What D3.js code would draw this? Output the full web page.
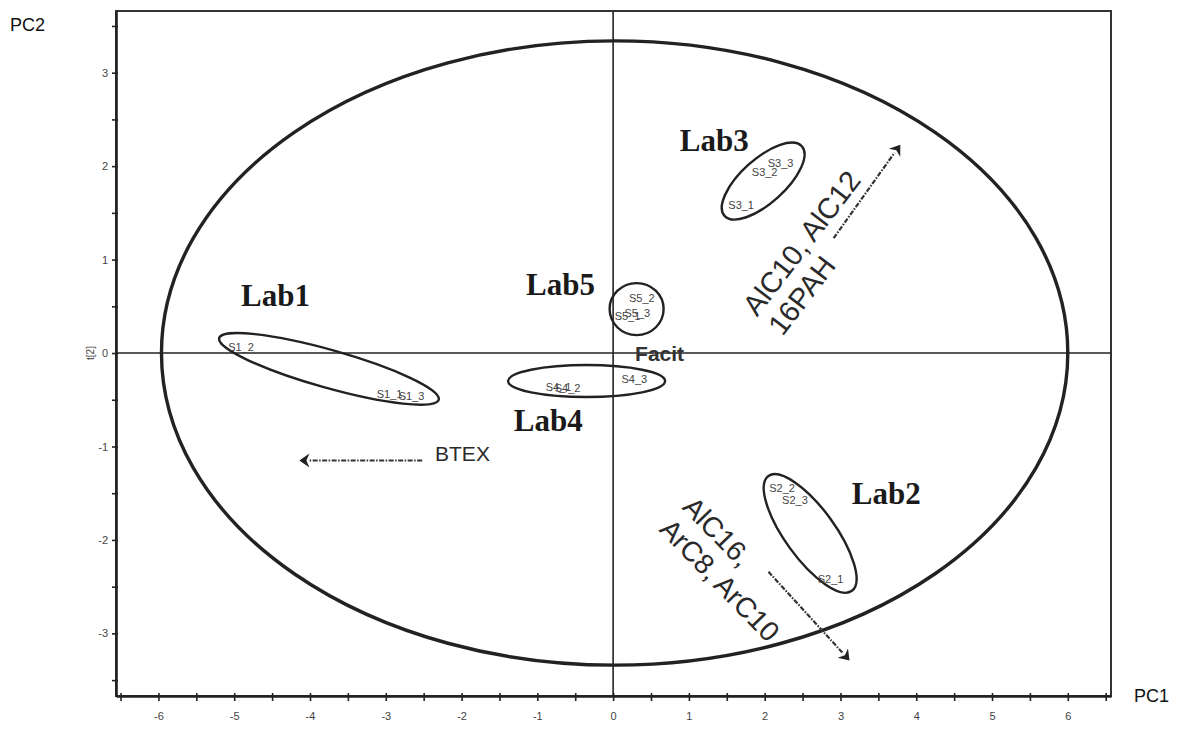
<!DOCTYPE html>
<html>
<head>
<meta charset="utf-8">
<script src="https://cdn.jsdelivr.net/npm/d3@7"></script>
<style>
  html, body { margin: 0; padding: 0; background: #fff; }
  svg { display: block; }
</style>
</head>
<body>
<svg id="chart" width="1191" height="735"></svg>
<script>
// PCA score plot (t[1] vs t[2]) of laboratory replicates

// Score values for each replicate sample
const sampleNames = ["S1_1","S1_2","S1_3","S2_1","S2_2","S2_3","S3_1","S3_2","S3_3",
                     "S4_1","S4_2","S4_3","S5_1","S5_2","S5_3"];
const pc1Scores = [-3.12,-5.08,-2.83, 2.70, 2.06, 2.23, 1.52, 1.83, 2.04,
                   -0.89,-0.77, 0.11, 0.02, 0.21, 0.15];
const pc2Scores = [-0.44, 0.06,-0.46,-2.42,-1.45,-1.57, 1.58, 1.94, 2.03,
                   -0.37,-0.38,-0.28, 0.40, 0.59, 0.43];

// Reference sample
const refName = "Facit";
const refScore = [0.29, 0.0];

// Laboratory groups: label and centre of the group ring (score units)
const labNames  = ["Lab1","Lab2","Lab3","Lab4","Lab5"];
const labCentre = [[-3.75,-0.17],[2.60,-1.93],[1.98,1.84],[-0.35,-0.30],[0.31,0.47]];
const labTextAt = [[-4.91,0.50],[3.15,-1.62],[0.88,2.16],[-1.31,-0.83],[-1.15,0.62]];

// Hotelling T2 (95%) ellipse semi-axes
const t2Radii = [5.98, 3.34];

// Loading direction arrows: [tail, tip] in score units
const arrowNames = ["BTEX","AlC10, AlC12|16PAH","AlC16,|ArC8, ArC10"];
const arrowTail = [[-2.52,-1.15],[2.91,1.23],[2.05,-2.34]];
const arrowTip  = [[-4.14,-1.15],[3.79,2.23],[3.12,-3.29]];

// Axis ticks
const xTicks = d3.range(-6.5, 6.51, 0.5);
const yTicks = d3.range(-3.5, 3.51, 0.5);

// ---------------------------------------------------------------
const svg = d3.select("#chart");
const L = 116, R = 1111, T = 11, B = 696;

const x = d3.scaleLinear().domain([-6.56, 6.57]).range([L, R]);
const y = d3.scaleLinear().domain([-3.67, 3.66]).range([B, T]);

const ink = "#222";

// frame (top and right)
svg.append("rect")
  .attr("x", L).attr("y", T).attr("width", R - L).attr("height", B - T)
  .attr("fill", "none").attr("stroke", "#333").attr("stroke-width", 2);

// x axis
const gx = svg.append("g").attr("transform", `translate(0,${B})`)
  .call(d3.axisBottom(x).tickValues(xTicks)
        .tickFormat(d => Number.isInteger(d) ? d3.format("d")(d).replace("−","-") : "")
        .tickSize(5).tickSizeOuter(0).tickPadding(11));
gx.select(".domain").attr("stroke", ink).attr("stroke-width", 2.6);
gx.selectAll(".tick line").attr("y1", -3).attr("stroke", ink).attr("stroke-width", 1.6);
gx.selectAll(".tick text").attr("font-family", "'Liberation Sans', Arial, sans-serif")
  .attr("font-size", 11).attr("fill", "#444");

// y axis
const gy = svg.append("g").attr("transform", `translate(${L},0)`)
  .call(d3.axisLeft(y).tickValues(yTicks)
        .tickFormat(d => Number.isInteger(d) ? d3.format("d")(d).replace("−","-") : "")
        .tickSize(4).tickSizeOuter(0).tickPadding(4));
gy.select(".domain").attr("stroke", ink).attr("stroke-width", 2.6);
gy.selectAll(".tick line").attr("x1", 2).attr("stroke", ink).attr("stroke-width", 1.6);
gy.selectAll(".tick text").attr("font-family", "'Liberation Sans', Arial, sans-serif")
  .attr("font-size", 11).attr("fill", "#444");

// zero lines
svg.append("line").attr("x1", L).attr("x2", R).attr("y1", y(0)).attr("y2", y(0))
  .attr("stroke", ink).attr("stroke-width", 1.6);
svg.append("line").attr("x1", x(0)).attr("x2", x(0)).attr("y1", T).attr("y2", B)
  .attr("stroke", ink).attr("stroke-width", 1.6);

// axis titles
const sans = "'Liberation Sans', Arial, sans-serif";
svg.append("text").attr("x", 10).attr("y", 31).text("PC2")
  .attr("font-family", sans).attr("font-size", 18).attr("fill", "#111");
svg.append("text").attr("x", 1134).attr("y", 702).text("PC1")
  .attr("font-family", sans).attr("font-size", 18).attr("fill", "#111");
svg.append("text").attr("transform", `translate(94,${y(0)}) rotate(-90)`)
  .attr("text-anchor", "middle").text("t[2]")
  .attr("font-family", sans).attr("font-size", 10).attr("fill", "#444");

// Hotelling T2 ellipse
svg.append("ellipse")
  .attr("cx", x(0.02)).attr("cy", y(0))
  .attr("rx", x(t2Radii[0]) - x(0)).attr("ry", y(0) - y(t2Radii[1]))
  .attr("fill", "none").attr("stroke", ink).attr("stroke-width", 3.4);

// group rings: semi-axes (px) and tilt (deg)
const ringShape = [[114, 19, 15.7],[71, 25, 54],[52, 22, -42],[78.5, 16, 0],[27, 26, 0]];
svg.append("g").selectAll("ellipse").data(labNames).join("ellipse")
  .attr("transform", (d, i) => `translate(${x(labCentre[i][0])},${y(labCentre[i][1])}) rotate(${ringShape[i][2]})`)
  .attr("rx", (d, i) => ringShape[i][0]).attr("ry", (d, i) => ringShape[i][1])
  .attr("fill", "none").attr("stroke", ink).attr("stroke-width", 2.4);

// group labels
svg.append("g").selectAll("text").data(labNames).join("text")
  .attr("x", (d, i) => x(labTextAt[i][0])).attr("y", (d, i) => y(labTextAt[i][1]))
  .text(d => d)
  .attr("font-family", "'Liberation Serif', 'Times New Roman', serif")
  .attr("font-weight", "bold").attr("font-size", 31).attr("fill", "#1a1a1a");

// sample labels
svg.append("g").selectAll("text").data(sampleNames).join("text")
  .attr("x", (d, i) => x(pc1Scores[i])).attr("y", (d, i) => y(pc2Scores[i]))
  .attr("dy", "0.35em").text(d => d)
  .attr("font-family", sans).attr("font-size", 11).attr("fill", "#444");

// reference label
svg.append("text").attr("x", x(refScore[0])).attr("y", y(refScore[1]))
  .attr("dy", "0.36em").text(refName)
  .attr("font-family", sans).attr("font-weight", "bold")
  .attr("font-size", 21).attr("fill", "#333");

// loading arrows
const ag = svg.append("g");
arrowTail.forEach((t, i) => {
  const x0 = x(t[0]), y0 = y(t[1]), x1 = x(arrowTip[i][0]), y1 = y(arrowTip[i][1]);
  const ang = Math.atan2(y1 - y0, x1 - x0);
  const hl = 10, hw = 7;
  const bx = x1 - hl * Math.cos(ang), by = y1 - hl * Math.sin(ang);
  ag.append("line").attr("x1", x0).attr("y1", y0).attr("x2", bx).attr("y2", by)
    .attr("stroke", "#333").attr("stroke-width", 2.2)
    .attr("stroke-dasharray", "5,1.5,1.5,1.5");
  const px = -Math.sin(ang), py = Math.cos(ang);
  ag.append("path")
    .attr("d", `M${x1},${y1}L${bx + hw * px},${by + hw * py}L${bx + 3 * Math.cos(ang)},${by + 3 * Math.sin(ang)}L${bx - hw * px},${by - hw * py}Z`)
    .attr("fill", "#222");
});

// arrow captions: anchor (score units), rotation, font size
const captionAt = [[-2.35,-1.15,0,21],[1.90,0.38,-52.5,29],[0.90,-1.66,46,28]];
arrowNames.forEach((name, i) => {
  const c = captionAt[i];
  const txt = ag.append("text")
    .attr("transform", `translate(${x(c[0])},${y(c[1])}) rotate(${c[2]})`)
    .attr("font-family", sans).attr("font-size", c[3]).attr("fill", "#2a2a2a")
    .attr("dy", i === 0 ? "0.35em" : null);
  name.split("|").forEach((line, k) => {
    txt.append("tspan").attr("x", 0).attr("dy", k === 0 ? 0 : 32).text(line);
  });
});
</script>
</body>
</html>
